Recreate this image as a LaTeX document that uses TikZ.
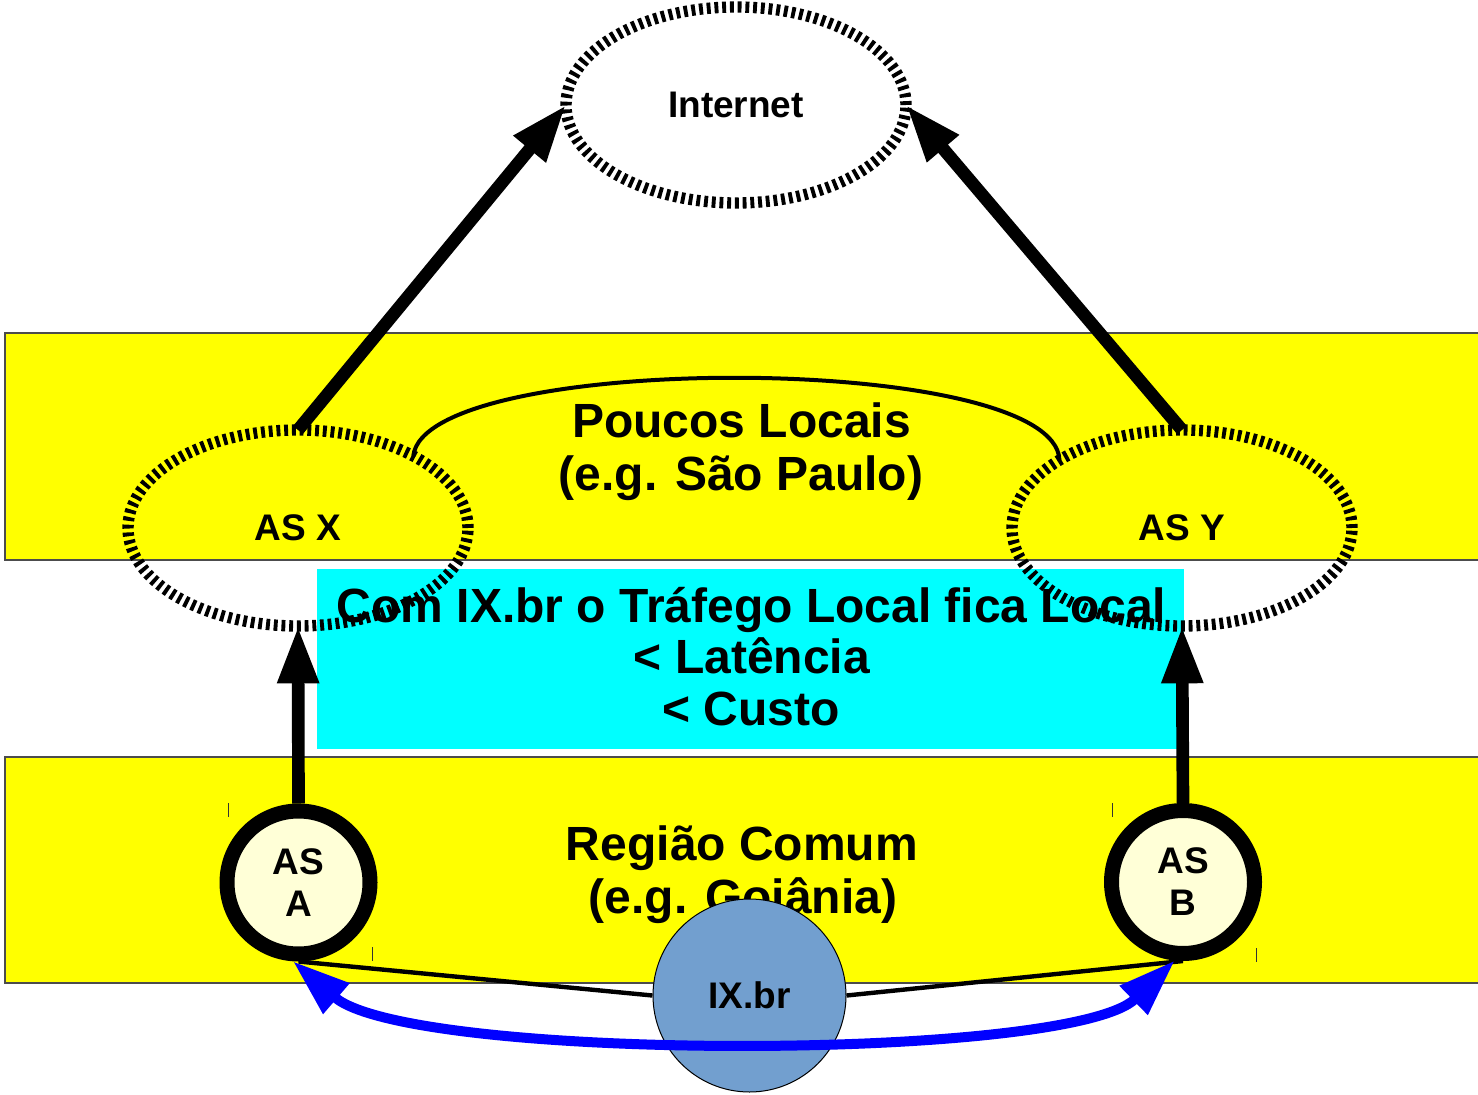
\documentclass[tikz,border=0pt]{standalone}
\usepackage{fontspec}
\setmainfont{Liberation Sans}
\usetikzlibrary{arrows.meta,shapes.geometric}
\pgfdeclarelayer{back}
\pgfdeclarelayer{under}
\pgfsetlayers{back,under,main}
\definecolor{bandyellow}{HTML}{FFFF00}
\definecolor{boxcyan}{HTML}{00FFFF}
\definecolor{creamfill}{HTML}{FFFFD7}
\definecolor{ixblue}{HTML}{729FCF}
\definecolor{linkblue}{HTML}{0000FF}
\newcommand\figbig{\fontsize{36}{40}\selectfont\bfseries}
\newcommand\figsmall{\fontsize{27.75}{31.5}\selectfont\bfseries}
\begin{document}
\begin{tikzpicture}[x=0.75pt,y=-0.75pt,
  band/.style={fill=bandyellow,draw=black!70,line width=0.9pt},
  asell/.style={ellipse,draw=black,line width=8.5pt,dash pattern=on 2.9pt off 2.9pt,
    minimum width=255pt,minimum height=147pt,inner sep=0pt,outer sep=0pt,font=\figsmall},
  ascirc/.style={circle,draw=black,line width=11.25pt,fill=creamfill,minimum size=107.25pt,
    inner sep=0pt,align=center,font=\figsmall},
  ixcirc/.style={circle,draw=black,line width=0.75pt,fill=ixblue,minimum size=144.75pt,
    inner sep=0pt,font=\figsmall},
  bigtext/.style={anchor=base,inner sep=0pt,font=\figbig},
  bigarrow/.style={draw=black,line width=9.5pt,-{Triangle[length=43pt,width=29pt]}},
  bluearrow/.style={draw=linkblue,line width=7.5pt,
    {Triangle[length=43pt,width=28.5pt]}-{Triangle[length=43pt,width=28.5pt]}},
  thinlink/.style={draw=black,line width=3.3pt},
  tickmark/.style={draw=black!80,line width=0.75pt}
]
\useasboundingbox (0,0) rectangle (1478,1095);

% background bands and box
\begin{pgfonlayer}{back}
  \draw[band] (5,333) rectangle (1490,560);
  \draw[band] (5,757) rectangle (1490,983);
  \fill[boxcyan] (317,569) rectangle (1184,749);
  \draw[tickmark] (228,803) -- (228,817);
  \draw[tickmark] (372,947) -- (372,961);
  \draw[tickmark] (1112,803) -- (1112,817);
  \draw[tickmark] (1256,948) -- (1256,962);
\end{pgfonlayer}

% ellipses
\node[asell] (internet) at (736,105) {Internet};
\node[asell] (asx) at (298,528) {AS X};
\node[asell] (asy) at (1182,528) {AS Y};

% texts
\node[bigtext] (poucos1) at (741.5,437) {Poucos Locais};
\node[bigtext] (poucos2) at (741,490) {(e.g. São Paulo)};
\node[bigtext] (com1) at (751.5,622) {Com IX.br o Tráfego Local fica Local};
\node[bigtext] (com2) at (752,673) {< Latência};
\node[bigtext] (com3) at (751,725) {< Custo};
\node[bigtext] (regiao1) at (742,860) {Região Comum};
\node[bigtext] (regiao2) at (743,913) {(e.g. Goiânia)};

% circles
\node[ascirc] (asa) at (298.5,882.5) {AS\\A};
\node[ascirc] (asb) at (1183,882) {AS\\B};
\node[ixcirc] (ixbr) at (749.5,995.5) {IX.br};

% connectors
\draw[line width=3pt] (asx.32) .. controls (425,351) and (1055,351) .. (asy.151);
\draw[bigarrow] (asx.north) -- (internet.west);
\draw[bigarrow] (asy.north) -- (internet.east);
\draw[bigarrow] (asa.north) -- (asx.south);
\draw[bigarrow] (asb.north) -- (asy.south);

\begin{pgfonlayer}{under}
  \draw[thinlink] (asa.south) -- (ixbr.west);
  \draw[thinlink] (asb.south) -- (ixbr.east);
\end{pgfonlayer}

\draw[bluearrow] (asa.266) .. controls (410,1062) and (1070,1062) .. (asb.264);
\end{tikzpicture}
\end{document}
